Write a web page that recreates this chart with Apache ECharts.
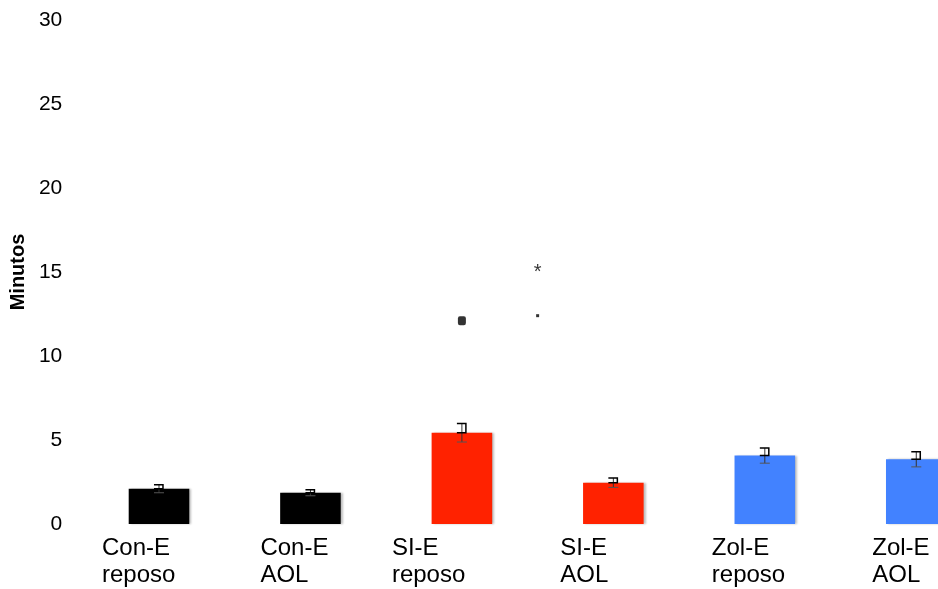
<!DOCTYPE html>
<html>
<head>
<meta charset="utf-8">
<script src="https://cdn.jsdelivr.net/npm/echarts@6/dist/echarts.min.js"></script>
<style>
  html, body { margin: 0; padding: 0; background: #fff; overflow: hidden; width: 938px; height: 589px; }
  #chart { width: 1000px; height: 589px; }
</style>
</head>
<body>
<div id="chart"></div>
<script>
// grupos y valores (minutos)
var categories = ['Con-E\nreposo', 'Con-E\nAOL', 'SI-E\nreposo', 'SI-E\nAOL', 'Zol-E\nreposo', 'Zol-E\nAOL'];
var means = [2.1, 1.86, 5.43, 2.46, 4.07, 3.85];
var errors = [0.24, 0.18, 0.55, 0.28, 0.45, 0.45];
var barColors = ['#000000', '#000000', '#ff2200', '#ff2200', '#4282ff', '#4282ff'];
var yTicks = [0, 5, 10, 15, 20, 25, 30];
// marcas sueltas sobre SI-E
var squareMark = [[2, 12.1]];
var dotMark = [[2.5, 12.4]];
var starMark = [[2.5, 15.2]];

// desplazamiento de cada etiqueta (px, desde el centro de la categoria)
var labelShift = [-57, -50, -70, -53, -53, -44];

var chart = echarts.init(document.getElementById('chart'));

var barData = means.map(function (v, i) {
  return { value: v, itemStyle: { color: barColors[i] } };
});
var errData = means.map(function (v, i) {
  return [i, v - errors[i], v + errors[i]];
});
var catData = categories.map(function (c, i) {
  return { value: c, textStyle: { align: 'left', padding: [0, 0, 0, labelShift[i]] } };
});

chart.setOption({
  animation: false,
  grid: { left: 83, width: 909, top: 20, bottom: 64 },
  xAxis: [{
    type: 'category',
    data: catData,
    axisLine: { show: false },
    axisTick: { show: false },
    axisLabel: {
      align: 'left',
      margin: 11,
      fontFamily: 'Liberation Sans, Arial',
      fontSize: 24,
      lineHeight: 27,
      color: '#000'
    }
  }, {
    type: 'value',
    min: -0.5,
    max: 5.5,
    show: false
  }],
  yAxis: {
    type: 'value',
    min: yTicks[0],
    max: yTicks[yTicks.length - 1],
    interval: 5,
    name: 'Minutos',
    nameLocation: 'middle',
    nameGap: 48,
    nameRotate: 90,
    nameTextStyle: { fontFamily: 'Liberation Sans, Arial', fontWeight: 'bold', fontSize: 20, color: '#000' },
    axisLine: { show: false },
    axisTick: { show: false },
    splitLine: { show: false },
    axisLabel: { margin: 21, fontFamily: 'Liberation Sans, Arial', fontSize: 21, color: '#000' }
  },
  series: [{
    type: 'bar',
    data: barData,
    barWidth: '40%',
    itemStyle: { shadowColor: 'rgba(0,0,0,0.25)', shadowBlur: 2, shadowOffsetX: 2 }
  }, {
    type: 'custom',
    xAxisIndex: 1,
    data: errData,
    z: 5,
    renderItem: function (params, api) {
      var x = api.coord([api.value(0), 0])[0];
      var lo = api.coord([0, api.value(1)])[1];
      var hi = api.coord([0, api.value(2)])[1];
      var mid = (lo + hi) / 2;
      return {
        type: 'group',
        children: [
          { type: 'line', shape: { x1: x, y1: lo, x2: x, y2: hi }, style: { stroke: '#333', lineWidth: 1 } },
          { type: 'line', shape: { x1: x - 5, y1: lo, x2: x + 5, y2: lo }, style: { stroke: '#555', lineWidth: 1 } },
          { type: 'polyline', shape: { points: [[x - 5, hi], [x + 4, hi], [x + 4, mid], [x - 5, mid]] }, style: { stroke: '#000', lineWidth: 1.5, fill: null } }
        ]
      };
    }
  }, {
    type: 'scatter',
    xAxisIndex: 1,
    data: squareMark,
    symbol: 'roundRect',
    symbolSize: [8, 9],
    itemStyle: { color: '#000' }
  }, {
    type: 'scatter',
    xAxisIndex: 1,
    data: dotMark,
    symbol: 'rect',
    symbolSize: 3,
    itemStyle: { color: '#000' }
  }, {
    type: 'scatter',
    xAxisIndex: 1,
    data: starMark,
    symbolSize: 0,
    label: {
      show: true,
      position: 'inside',
      formatter: '*',
      fontFamily: 'Liberation Sans, Arial',
      fontSize: 20,
      color: '#000',
      offset: [0, 4]
    }
  }]
});
</script>
</body>
</html>
